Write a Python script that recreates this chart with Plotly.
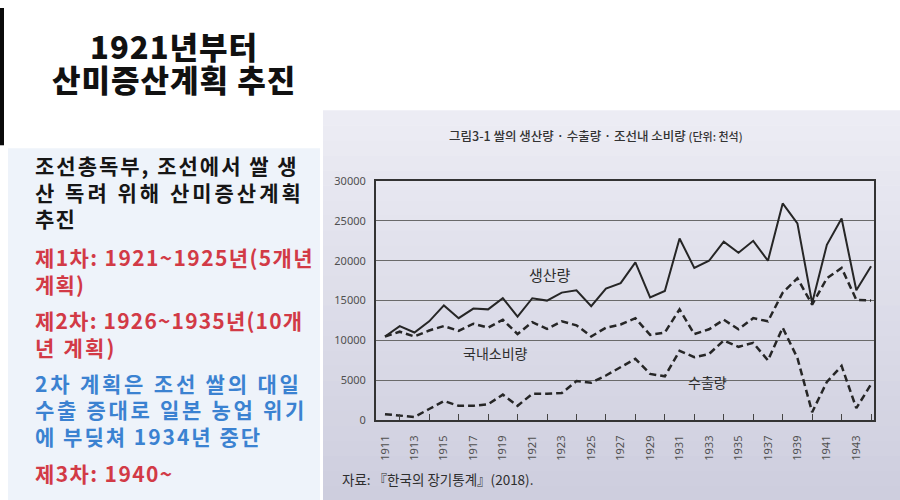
import plotly.graph_objects as go

years = list(range(1911, 1945))
production = [10500, 11800, 11000, 12400, 14400, 12800, 14000, 13900, 15300, 13000,
              15300, 15000, 16000, 16300, 14300, 16500, 17200, 19800, 15400, 16200,
              22800, 19100, 20000, 22400, 21000, 22500, 20000, 27200, 24700, 14700,
              22000, 25300, 16300, 19300]
consumption = [10500, 11100, 10500, 11250, 11800, 11200, 12100, 11600, 12600, 10800,
               12300, 11450, 12400, 11900, 10500, 11600, 12000, 12800, 10700, 11000,
               13900, 10800, 11400, 12600, 11400, 12800, 12400, 16000, 17800, 14500,
               17800, 19100, 15100, 15000]
exports = [750, 600, 400, 1400, 2400, 1800, 1800, 2000, 3200, 1800,
           3300, 3300, 3400, 4900, 4700, 5600, 6600, 7700, 5800, 5500,
           8700, 7900, 8300, 10000, 9200, 9700, 7500, 11600, 7800, 1000,
           4800, 6800, 1500, 4500]

series_labels = ["생산량", "국내소비량", "수출량"]
chart_title = "그림3-1 쌀의 생산량 · 수출량 · 조선내 소비량 <span style='font-size:11px'>(단위: 천석)</span>"
source_text = "자료: 『한국의 장기통계』(2018)."
slide_title = ["1921년부터", "산미증산계획 추진"]
body_lines = [
    ("조선총독부, 조선에서 쌀 생", "#161616"),
    ("산 독려 위해 산미증산계획", "#161616"),
    ("추진", "#161616"),
    ("제1차: 1921~1925년(5개년", "#d23a46"),
    ("계획)", "#d23a46"),
    ("제2차: 1926~1935년(10개", "#d23a46"),
    ("년 계획)", "#d23a46"),
    ("2차 계획은 조선 쌀의 대일", "#3b82d1"),
    ("수출 증대로 일본 농업 위기", "#3b82d1"),
    ("에 부딪쳐 1934년 중단", "#3b82d1"),
    ("제3차: 1940~", "#d23a46"),
]
# layout styling for the text block (pixel rows and letter spacing)
body_y = [165, 192, 218, 256, 283, 319, 346, 382, 408, 435, 472]
body_ls = [2.0, 3.0, 1.2, 1.4, 1.2, 1.2, 2.2, 2.8, 2.7, 2.0, 1.4]

W, H = 900, 500
# the page shows the figure in rows 8..492, so compensate vertical placement
TOP, SCALE = 8.0, 484.0 / 500.0
def px(x):
    return x / W
def py(y):
    return 1 - ((y - TOP) / SCALE) / H

FONT = "Noto Sans CJK KR"
line_col = "#262626"

fig = go.Figure()
fig.add_trace(go.Scatter(x=years, y=production, mode="lines",
                         line=dict(color=line_col, width=2), name=series_labels[0]))
fig.add_trace(go.Scatter(x=years, y=consumption, mode="lines",
                         line=dict(color=line_col, width=2.5, dash="7px,4px"), name=series_labels[1]))
fig.add_trace(go.Scatter(x=years, y=exports, mode="lines",
                         line=dict(color=line_col, width=2.5, dash="7px,4px"), name=series_labels[2]))

shapes = []
shapes.append(dict(type="rect", xref="paper", yref="paper", x0=0, x1=px(4), y0=py(145), y1=1,
                   fillcolor="#0a0a0a", line=dict(width=0), layer="below"))
shapes.append(dict(type="rect", xref="paper", yref="paper", x0=px(8), x1=px(320), y0=py(500), y1=py(148),
                   fillcolor="#eef3fa", line=dict(width=0), layer="below"))
n = 26
top_c = (236, 236, 244)
bot_c = (206, 206, 222)
for i in range(n):
    t = i / (n - 1)
    c = tuple(int(round(top_c[k] + (bot_c[k] - top_c[k]) * t)) for k in range(3))
    y0 = 110 + (500 - 110) * i / n
    y1 = 110 + (500 - 110) * (i + 1) / n + 0.5
    shapes.append(dict(type="rect", xref="paper", yref="paper", x0=px(323), x1=1,
                       y0=py(min(y1, 500)), y1=py(y0),
                       fillcolor="rgb(%d,%d,%d)" % c, line=dict(width=0), layer="below"))

annotations = []
for txt, yy in zip(slide_title, [45, 78]):
    annotations.append(dict(text="<span style='letter-spacing:1px'>%s</span>" % txt,
                            x=px(174), y=py(yy), xref="paper", yref="paper",
                            showarrow=False, xanchor="center", yanchor="middle",
                            font=dict(family=FONT, size=31, color="#111111", weight=900)))
for (txt, col), yy, ls in zip(body_lines, body_y, body_ls):
    annotations.append(dict(text="<span style='letter-spacing:%.1fpx'>%s</span>" % (ls, txt),
                            x=px(33), y=py(yy), xref="paper", yref="paper",
                            showarrow=False, xanchor="left", yanchor="middle",
                            font=dict(family=FONT, size=21, color=col, weight=700)))
annotations.append(dict(text=chart_title, x=px(596), y=py(135), xref="paper", yref="paper",
                        showarrow=False, xanchor="center", yanchor="middle",
                        font=dict(family=FONT, size=12.5, color="#333333", weight=500)))
annotations.append(dict(text=source_text, x=px(340), y=py(478), xref="paper", yref="paper",
                        showarrow=False, xanchor="left", yanchor="middle",
                        font=dict(family=FONT, size=13.5, color="#2e2e2e")))
annotations.append(dict(text=series_labels[0], x=1922.2, y=18300, xref="x", yref="y",
                        showarrow=False, font=dict(family=FONT, size=15, color="#2e2e2e")))
annotations.append(dict(text=series_labels[1], x=1918.5, y=8400, xref="x", yref="y",
                        showarrow=False, font=dict(family=FONT, size=14, color="#2e2e2e")))
annotations.append(dict(text=series_labels[2], x=1932.9, y=4800, xref="x", yref="y",
                        showarrow=False, font=dict(family=FONT, size=14, color="#2e2e2e")))

fig.update_layout(
    width=W, height=H, autosize=False,
    margin=dict(l=0, r=0, t=0, b=0),
    paper_bgcolor="#ffffff", plot_bgcolor="rgba(0,0,0,0)",
    showlegend=False,
    shapes=shapes, annotations=annotations,
    xaxis=dict(domain=[px(376), px(874)], range=[1910.39, 1944.2],
               tick0=1911, dtick=2, tickangle=-90, ticks="",
               tickfont=dict(family="Liberation Sans Narrow, Noto Sans", size=11, color="#505050"),
               ticklabelstandoff=9,
               minor=dict(dtick=1, tick0=1911, ticks="inside", ticklen=6, tickcolor="#444444", tickwidth=1),
               showgrid=False, zeroline=False,
               showline=True, linecolor="#333333", linewidth=2, mirror=True),
    yaxis=dict(domain=[py(419.3), py(180.7)], range=[0, 30000], dtick=5000,
               tickformat="d", ticks="",
               tickfont=dict(family="Liberation Sans Narrow, Noto Sans", size=11, color="#505050"),
               ticklabelstandoff=6,
               showgrid=True, gridcolor="#6a6a6a", gridwidth=1, zeroline=False,
               showline=True, linecolor="#333333", linewidth=2, mirror=True),
)

post = ("document.documentElement.style.margin='0';document.body.style.margin='0';"
        "document.body.style.overflow='hidden';"
        "document.documentElement.style.background='linear-gradient(#efefef 0px, #efefef 5px, rgba(0,0,0,0) 5px), "
        "linear-gradient(to right, #0a0a0a 0px, #0a0a0a 4px, #ffffff 4px, #ffffff 8px, #eef3fa 8px, #eef3fa 320px, "
        "#ffffff 320px, #ffffff 323px, #cecede 323px)';")
fig.write_html("out.html", config={"displayModeBar": False, "responsive": False}, post_script=post)
